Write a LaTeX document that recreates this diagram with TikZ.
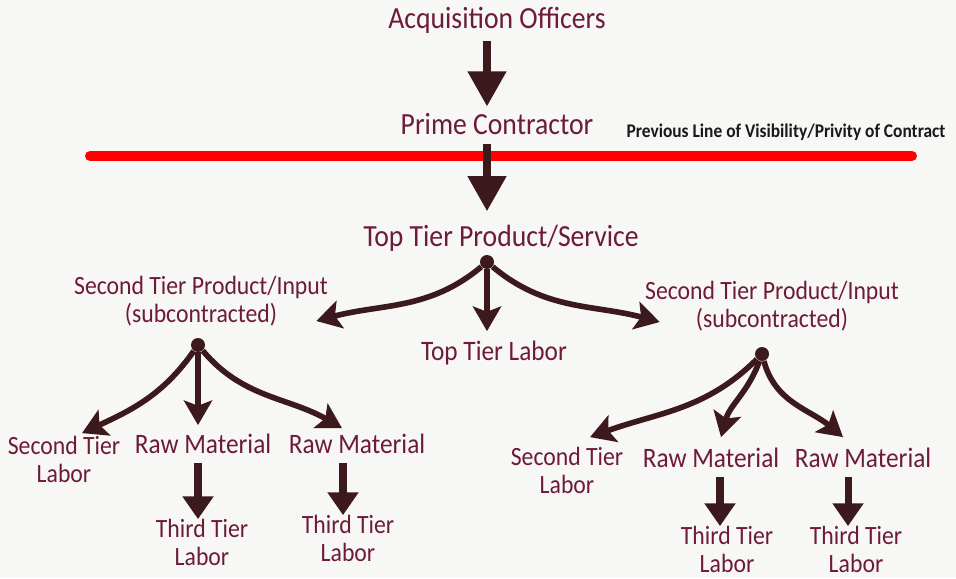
\documentclass[tikz,border=0pt]{standalone}
\usepackage{fontspec}
\setmainfont{Carlito}[FakeStretch=0.9]
\usetikzlibrary{arrows.meta,positioning}
\definecolor{wine}{HTML}{6D1B36}
\definecolor{bark}{HTML}{3C191D}
\definecolor{paper}{HTML}{F7F7F5}
\tikzset{
tier/.style={text=wine, inner sep=0pt, align=center, anchor=base}, % every label of the tree
bigtext/.style={font=\fontsize{17.5}{21}\selectfont},
midtext/.style={font=\fontsize{16}{19}\selectfont},
smalltext/.style={font=\fontsize{15}{15.5}\selectfont},
hub/.style={circle, fill=bark, inner sep=0pt, minimum size=0.28cm}, % split point
thickarrow/.style={draw=bark, line width=4.5pt, -{Triangle[width=21pt,length=20pt]}},
curvearrow/.style={draw=bark, line width=3.2pt, -{Stealth[width=16pt,length=14pt,inset=3pt]}},
droparrow/.style={draw=bark, line width=4pt, shorten <=0.18cm, -{Triangle[width=17pt,length=13pt]}},
}

\begin{document}
\begin{tikzpicture}[x=0.02cm,y=0.02cm]
   \fill[paper] (0,0) rectangle (956,-578);
   \useasboundingbox (0,0) rectangle (956,-578);

   \node[tier,bigtext] (officers) at (497,-29) {Acquisition Officers};
   \node[tier,bigtext] (prime) at (497,-134) {Prime Contractor};
   \node[tier,text=black!90,font=\bfseries\fontsize{11}{13}\selectfont] (privity) at (786,-137)
      {Previous Line of Visibility/Privity of Contract};
   \node[tier,bigtext] (top) at (501,-246) {Top Tier Product/Service};
   \node[hub] (hubTop) at (487,-262) {};
   \node[tier,midtext] (topLabor) at (494,-360) {Top Tier Labor};

   % second tier (base sits on the last line)
   \node[tier,smalltext] (secL) at (201,-322) {Second Tier Product/Input\\(subcontracted)};
   \node[tier,smalltext] (secR) at (772,-327) {Second Tier Product/Input\\(subcontracted)};
   \node[hub] (hubL) at (198,-345) {};
   \node[hub] (hubR) at (762,-354) {};

   \node[tier,smalltext] (labL) at (64,-482) {Second Tier\\Labor};
   \node[tier,midtext] (rawA) at (203,-453) {Raw Material};
   \node[tier,midtext] (rawB) at (357,-453) {Raw Material};
   \node[tier,smalltext] (labR) at (567,-493) {Second Tier\\Labor};
   \node[tier,midtext] (rawC) at (711,-467) {Raw Material};
   \node[tier,midtext] (rawD) at (863,-467) {Raw Material};

   % third tier
   \node[tier,smalltext] (thirdA) at (202,-565) {Third Tier\\Labor};
   \node[tier,smalltext] (thirdB) at (348,-561) {Third Tier\\Labor};
   \node[tier,smalltext] (thirdC) at (727,-572) {Third Tier\\Labor};
   \node[tier,smalltext] (thirdD) at (856,-572) {Third Tier\\Labor};

   % privity line
   \coordinate (lineL) at (90,-156);
   \coordinate (lineR) at (912,-156);
   \draw[red, line width=5.7pt, line cap=round] (lineL) -- (lineR);

   \draw[thickarrow, shorten <=0.14cm, shorten >=0.12cm] (officers.south -| hubTop) -- (prime.north -| hubTop);
   \draw[thickarrow, shorten <=0.18cm, shorten >=0.26cm] (prime.south -| hubTop) -- (top.north -| hubTop);

   % top tier split
   \draw[curvearrow] (hubTop) to[out=220,in=15] ([xshift=-0.24cm,yshift=0.1cm]secL.south east);
   \draw[curvearrow, shorten >=0.18cm] (hubTop) -- (hubTop |- topLabor.north);
   \draw[curvearrow] (hubTop) to[out=-40,in=165] ([xshift=0.3cm,yshift=0.18cm]secR.south west);

   % second tier splits
   \draw[curvearrow] (hubL) to[out=235,in=25] ([xshift=0.36cm,yshift=0.06cm]labL.north);
   \draw[curvearrow, shorten >=0.16cm] (hubL) -- (hubL |- rawA.north);
   \draw[curvearrow] (hubL) to[out=-50,in=150] ([xshift=-0.3cm,yshift=0.1cm]rawB.north);
   \draw[curvearrow] (hubR) to[out=225,in=20] ([xshift=0.46cm,yshift=0.2cm]labR.north);
   \draw[curvearrow] (hubR) to[out=250,in=75] ([xshift=0.2cm,yshift=0.2cm]rawC.north);
   \draw[curvearrow] (hubR) to[out=-75,in=140] ([xshift=-0.4cm,yshift=0.2cm]rawD.north);

   \draw[droparrow] (rawA.south -| hubL) -- (thirdA.north -| hubL);
   \draw[droparrow] ([xshift=-0.28cm]rawB.south) -- ([xshift=-0.28cm]rawB.south |- thirdB.north);
   \draw[droparrow] ([xshift=0.18cm]rawC.south) -- ([xshift=0.18cm]rawC.south |- thirdC.north);
   \draw[droparrow] ([xshift=-0.3cm]rawD.south) -- ([xshift=-0.3cm]rawD.south |- thirdD.north);
\end{tikzpicture}
\end{document}
